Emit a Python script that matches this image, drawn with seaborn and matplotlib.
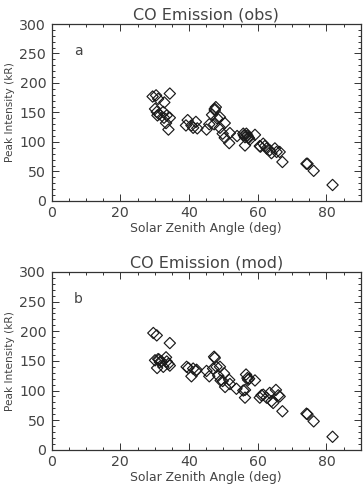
import matplotlib
matplotlib.use("Agg")
import matplotlib.pyplot as plt
import seaborn as sns
from matplotlib.ticker import MultipleLocator

# -----------------------------
# Data (SZA in deg, peak intensity in kR)
# -----------------------------
obs_sza = [29.4, 30.4, 31.0, 32.8, 34.4, 30.1, 30.6, 31.3, 32.5, 33.5, 34.4, 33.3, 34.0, 32.7, 30.8,
           39.1, 39.6, 40.7, 41.2, 42.0, 42.4, 45.1, 45.9, 46.7, 47.5, 47.8, 47.5, 47.3, 48.2,
           49.0, 49.0, 49.8, 50.4, 50.4, 51.7, 51.9, 54.0, 55.8, 56.0, 56.3, 56.7, 57.0, 56.3,
           57.2, 57.4, 57.7, 59.2, 60.6, 60.8, 61.6, 62.1, 62.6, 63.5, 64.0, 65.0, 65.5, 66.4,
           67.2, 74.2, 74.5, 76.3, 81.8]
obs_peak = [177, 179, 173, 167, 182, 156, 151, 147, 151, 145, 141, 132, 121, 141, 145,
            128, 137, 128, 124, 134, 123, 121, 130, 146, 156, 159, 154, 130, 140,
            142, 124, 114, 132, 107, 98, 115, 110, 114, 111, 108, 114, 111, 94,
            108, 107, 104, 112, 93, 92, 97, 93, 89, 86, 81, 89, 83, 83,
            66, 63, 63, 51, 27]

mod_sza = [29.6, 30.6, 34.4, 30.1, 30.7, 31.3, 32.0, 32.5, 33.3, 33.5, 34.0, 34.4, 31.5, 31.0,
           39.3, 39.8, 40.7, 41.2, 42.0, 42.2, 45.1, 45.9, 47.3, 47.5, 47.0, 48.0, 48.5,
           49.0, 49.2, 49.8, 50.2, 50.5, 51.7, 51.9, 53.8, 55.8, 56.3, 56.3, 56.6, 57.0,
           57.2, 57.5, 59.2, 60.6, 61.1, 61.6, 62.6, 63.5, 64.0, 64.5, 65.3, 66.0, 66.4,
           67.2, 74.2, 74.5, 76.3, 81.8]
mod_peak = [197, 193, 180, 151, 138, 152, 149, 140, 156, 149, 145, 142, 148, 153,
            140, 138, 124, 137, 133, 135, 133, 124, 157, 155, 137, 140, 125,
            140, 117, 116, 129, 106, 118, 111, 103, 100, 101, 88, 127, 121,
            118, 120, 117, 88, 92, 93, 88, 96, 82, 79, 101, 92, 90,
            65, 61, 60, 48, 22]

panels = [("CO Emission (obs)", "a", obs_sza, obs_peak),
          ("CO Emission (mod)", "b", mod_sza, mod_peak)]

sns.set_style("ticks")
plt.rcParams["font.family"] = ["DejaVu Sans"]
text_col = "#444444"

fig = plt.figure(figsize=(3.64, 4.90), dpi=100)
boxes = [[0.142, 0.590, 0.849, 0.361],
         [0.142, 0.082, 0.849, 0.363]]

for box, (title, tag, sza, peak) in zip(boxes, panels):
    ax = fig.add_axes(box)
    sns.scatterplot(x=sza, y=peak, ax=ax, marker="D", s=33,
                    facecolor="none", edgecolor="#1a1a1a", linewidth=0.85)
    ax.set_xlim(0, 90)
    ax.set_ylim(0, 300)
    ax.xaxis.set_major_locator(MultipleLocator(20))
    ax.xaxis.set_minor_locator(MultipleLocator(5))
    ax.yaxis.set_major_locator(MultipleLocator(50))
    ax.yaxis.set_minor_locator(MultipleLocator(10))
    ax.tick_params(which="both", direction="in", top=True, right=True,
                   colors="#333333", labelcolor=text_col, labelsize=10.2, width=0.7)
    ax.tick_params(which="major", length=5, pad=4)
    ax.tick_params(which="minor", length=2.5)
    for sp in ax.spines.values():
        sp.set_color("#333333")
        sp.set_linewidth(0.9)
    ax.set_title(title, fontsize=11.5, color=text_col, pad=3)
    ax.set_xlabel("Solar Zenith Angle (deg)", fontsize=8.9, color=text_col, labelpad=1)
    ax.set_ylabel("Peak Intensity (kR)", fontsize=7.6, color=text_col, labelpad=3)
    ax.text(7.8, 254, tag, fontsize=10, color=text_col, ha="center", va="center")

fig.savefig("out.png", dpi=100)
